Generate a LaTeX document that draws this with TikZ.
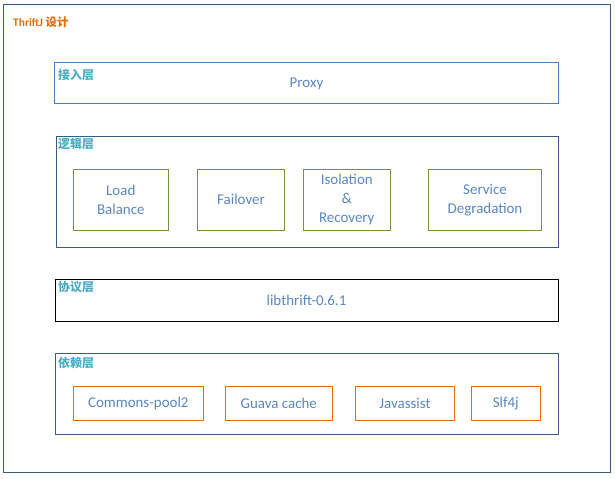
\documentclass[tikz,border=0pt]{standalone}
\usepackage{fontspec}
\setmainfont{Carlito}
\newfontfamily\cjk{Noto Sans CJK SC}
\definecolor{outerc}{HTML}{385D8A}
\definecolor{accc}{HTML}{4A7EBB}
\definecolor{txtc}{HTML}{5A86C4}
\definecolor{labc}{HTML}{4BACC6}
\definecolor{grnc}{HTML}{77933C}
\definecolor{orgc}{HTML}{E46C0A}
\tikzset{
  frame/.style={draw=#1, line width=1bp, inner sep=0pt, outer sep=0pt},
  item/.style={draw=#1, line width=1bp, inner sep=0pt, outer sep=0pt, align=center,
     text=txtc, font=\fontsize{15}{19}\selectfont},
  laylabel/.style={anchor=west, inner sep=0pt, text=labc, font=\cjk\bfseries\fontsize{12}{14}\selectfont},
  bodytext/.style={inner sep=0pt, text=txtc, font=\fontsize{15}{19}\selectfont}
}
\begin{document}
\begin{tikzpicture}[x=1bp,y=-1bp]
\useasboundingbox (0,0) rectangle (615,479);
% outer frame
\node[frame=outerc, minimum width=606bp, minimum height=467bp] (outer) at (307,238.5) {};
\node[anchor=west, inner sep=0pt, text=orgc, font=\bfseries\fontsize{11.5}{13}\selectfont] (title) at (13,22) {ThriftJ \cjk\bfseries 设计};
% access layer
\node[frame=accc, minimum width=503bp, minimum height=41bp] (access) at (306.5,83.5) {};
\node[laylabel] (accesslab) at (58,75) {接入层};
\node[bodytext] (proxy) at (306.5,84.3) {Proxy};
% logic layer
\node[frame=outerc, minimum width=502bp, minimum height=111bp] (logic) at (307.3,191.7) {};
\node[laylabel] (logiclab) at (58,144) {逻辑层};
\node[item=grnc, minimum width=95bp, minimum height=61bp] (lb) at (120.8,199.8) {Load\\Balance};
\node[item=grnc, minimum width=87.4bp, minimum height=61bp] (fo) at (241,199.8) {Failover};
\node[item=grnc, minimum width=87bp, minimum height=61bp] (iso) at (346.8,199.8) {\raisebox{-1bp}{\parbox{80bp}{\centering Isolation\\\&\\Recovery}}};
\node[item=grnc, minimum width=113.4bp, minimum height=61bp] (sd) at (485,199.8) {\raisebox{-1bp}{\parbox{110bp}{\centering Service\\Degradation}}};
% protocol layer
\node[frame=black, minimum width=503bp, minimum height=42bp] (proto) at (306.7,300.3) {};
\node[laylabel] (protolab) at (58,287) {协议层};
\node[bodytext] (lib) at (306.5,300.8) {libthrift-0.6.1};
% dependency layer
\node[frame=outerc, minimum width=503bp, minimum height=80.3bp] (dep) at (306.7,393.9) {};
\node[laylabel] (deplab) at (58,362.5) {依赖层};
\node[item=orgc, minimum width=130bp, minimum height=33.8bp] (cp) at (138.3,403.5) {Commons-pool2};
\node[item=orgc, minimum width=107bp, minimum height=33.8bp] (gc) at (278.8,403.5) {Guava cache};
\node[item=orgc, minimum width=99.4bp, minimum height=33.8bp] (js) at (405,403.5) {Javassist};
\node[item=orgc, minimum width=69bp, minimum height=33.8bp] (sl) at (505.8,403.5) {Slf4j};
\end{tikzpicture}
\end{document}
